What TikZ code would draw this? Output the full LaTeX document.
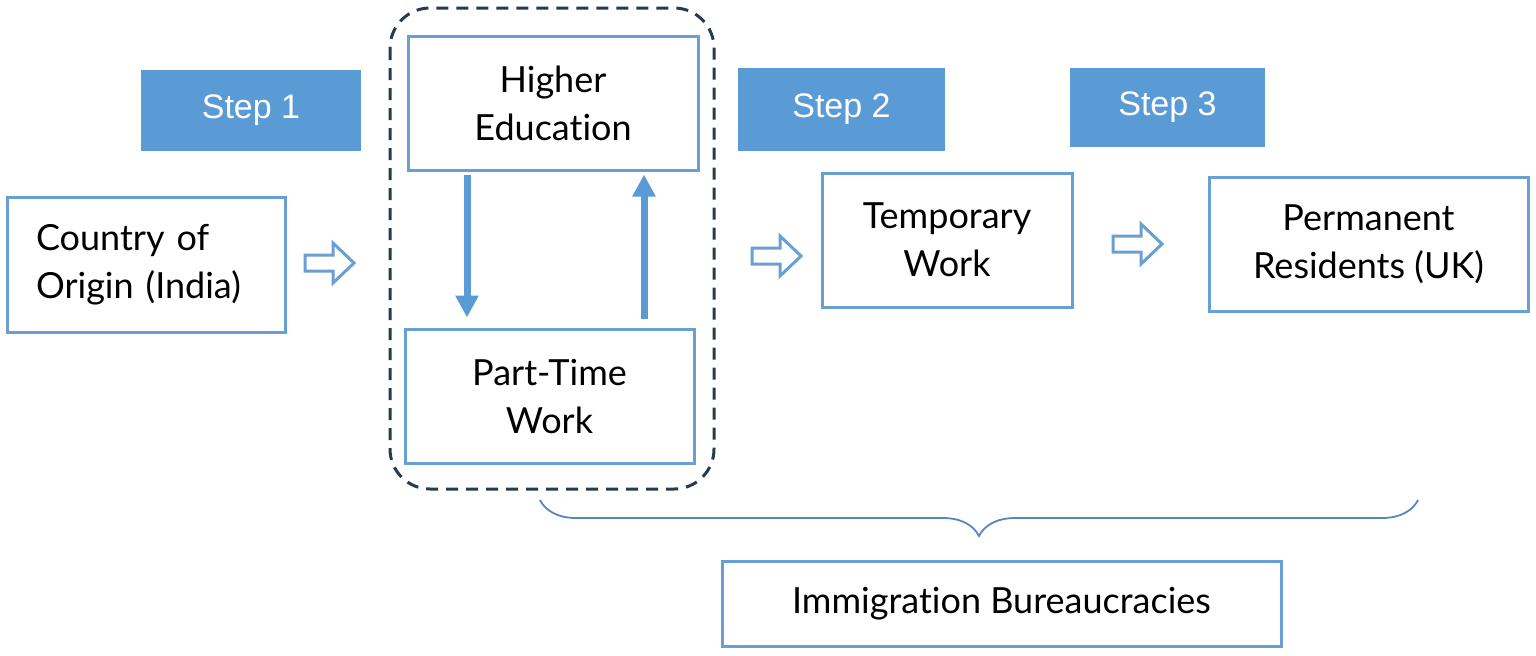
\documentclass[tikz,border=0pt]{standalone}
\usepackage{fontspec}
\setmainfont{Lato}[Ligatures = NoCommon]
\newfontfamily\stepfont{Liberation Sans}
\usetikzlibrary{arrows.meta, decorations.pathreplacing}
\definecolor{boxblue}{HTML}{5B9BD5}
\definecolor{edgeblue}{HTML}{6A9FD3}
\definecolor{navy}{HTML}{263B50}
\definecolor{braceblue}{HTML}{5A84BE}

\begin{document}
\begin{tikzpicture}[x = .5pt, y = -.5pt,
  stepbox/.style = {fill = boxblue, text = white, inner sep = 0pt,
    font = \stepfont\fontsize{17}{20}\selectfont},
  stage/.style = {draw = edgeblue, line width = 1.5pt, fill = white, inner sep = 0pt,
    align = center, font = \fontsize{18}{24}\selectfont},
  hollow/.style = {draw = edgeblue, line width = 1.5pt, fill = white, line join = miter},
  flow/.style = {draw = boxblue, line width = 3.5pt, -{Triangle[width = 11pt, length = 11pt]}}]
  \useasboundingbox (0, 0) rectangle (1536, 655);
  % step labels
  \node[stepbox, minimum width = 110pt, minimum height = 40.5pt] at (251, 110.5) (step1) {Step 1};
  \node[stepbox, minimum width = 103.5pt, minimum height = 41.5pt] at (841.5, 109.5) (step2) {Step 2};
  \node[stepbox, minimum width = 97.5pt, minimum height = 39.5pt] at (1167.5, 107.5) (step3) {Step 3};
  % study loop
  \draw[navy, line width = 1.5pt, dash pattern = on 6pt off 4pt, rounded corners = 20pt]
    (390, 8) rectangle (714, 489);
  \node[stage, minimum width = 145pt, minimum height = 67pt] at (553, 103) (edu) {Higher\\Education};
  \node[stage, minimum width = 144.5pt, minimum height = 67pt] at (549.5, 396) (part) {Part-Time\\Work};
  \coordinate (dn) at (467, 0);
  \coordinate (up) at (644, 0);
  \draw[flow, shorten < = 1.5pt, shorten > = 5pt] (edu.south -| dn) -- (part.north -| dn);
  \draw[flow, shorten < = 4.5pt, shorten > = 1.5pt] (part.north -| up) -- (edu.south -| up);
  % stages
  \node[stage, minimum width = 139pt, minimum height = 67.5pt, text width = 110pt, align = left]
    at (146, 264.5) (origin) {Country of\\Origin (India)};
  \node[stage, minimum width = 125pt, minimum height = 67pt] at (947, 240) (temp) {Temporary\\Work};
  \node[stage, minimum width = 159.5pt, minimum height = 67pt] at (1368.5, 244) (perm) {Permanent\\Residents (UK)};
  \node[stage, minimum width = 279.5pt, minimum height = 42.5pt] at (1001.5, 603.5) (bureau) {Immigration Bureaucracies};
  % hollow arrows
  \foreach \x/\y in {305/263, 752/256, 1113/244}
  {
  \draw[hollow] (\x, \y-8) -- ++(28, 0) -- ++(0, -12) -- ++(21, 20) -- ++(-21, 20) -- ++(0, -12) -- ++(-28, 0) -- cycle;
  }
  % brace
  \coordinate (bl) at (540, 500);
  \coordinate (br) at (1418, 500);
  \draw[braceblue, line width = .9pt, decorate, decoration = {brace, mirror, amplitude = 18pt}] (bl) -- (br);
\end{tikzpicture}
\end{document}
